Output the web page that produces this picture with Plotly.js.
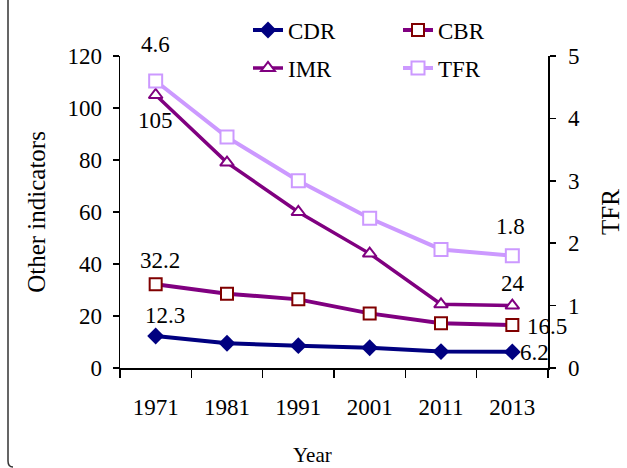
<!DOCTYPE html>
<html>
<head>
<meta charset="utf-8">
<script src="https://cdn.plot.ly/plotly-3.0.1.min.js"></script>
<style>
  html, body { margin: 0; padding: 0; background: #ffffff; }
  #chart { width: 627px; height: 468px; }
</style>
</head>
<body>
<div id="chart"></div>
<script>
// ---- data ----
var years = ["1971", "1981", "1991", "2001", "2011", "2013"];
var cdr = [12.3, 9.5, 8.6, 7.8, 6.3, 6.2];
var cbr = [32.2, 28.6, 26.4, 21.0, 17.2, 16.5];
var imr = [105, 79, 60, 44, 24.5, 24];
var tfr = [4.6, 3.7, 3.0, 2.4, 1.9, 1.8];
var leftTicks = [0, 20, 40, 60, 80, 100, 120];
var rightTicks = [0, 1, 2, 3, 4, 5];

var FONT = "Liberation Serif, Times New Roman, serif";

// evenly spaced category slots (the years are labels, not a time scale)
var pos = years.map(function (_, i) { return i; });
var bounds = [];
for (var b = 0; b <= years.length; b++) bounds.push(b - 0.5);

var traces = [
  { name: "CDR", x: pos, y: cdr, type: "scatter", mode: "lines+markers",
    line: { color: "#000080", width: 4 },
    marker: { symbol: "diamond", size: 13, color: "#000080" },
    legend: "legend" },
  { name: "CBR", x: pos, y: cbr, type: "scatter", mode: "lines+markers",
    line: { color: "#800080", width: 4 },
    marker: { symbol: "square", size: 12, color: "#ffffff", line: { color: "#800000", width: 2 } },
    legend: "legend" },
  { name: "IMR", x: pos, y: imr, type: "scatter", mode: "lines+markers",
    line: { color: "#800080", width: 3.5 },
    marker: { symbol: "triangle-up", size: 12, color: "#ffffff", line: { color: "#800080", width: 2 } },
    legend: "legend2" },
  { name: "TFR", x: pos, y: tfr, type: "scatter", mode: "lines+markers", yaxis: "y2",
    line: { color: "#CC99FF", width: 4 },
    marker: { symbol: "square", size: 13, color: "#ffffff", line: { color: "#CC99FF", width: 2 } },
    legend: "legend2" }
];

// data labels on first and last points (offsets are styling)
var n = years.length - 1;
function lab(series, i, yref, xs, ys, xanchor) {
  return { x: pos[i], y: series[i], xref: "x", yref: yref, text: String(series[i]),
           showarrow: false, xshift: xs, yshift: ys, xanchor: xanchor || "center", yanchor: "middle",
           font: { family: FONT, size: 23, color: "#000000" } };
}
var annotations = [
  lab(tfr, 0, "y2", 0, 36),
  lab(imr, 0, "y", 0, -25),
  lab(cbr, 0, "y", 4, 24),
  lab(cdr, 0, "y", 9, 21),
  lab(tfr, n, "y2", -2, 29),
  lab(imr, n, "y", 1, 22),
  lab(cbr, n, "y", 13, -1, "left"),
  lab(cdr, n, "y", 6, -1, "left"),
  { x: (312 - 120) / 428, y: (368 - 455) / 312, xref: "paper", yref: "paper", text: "Year",
    showarrow: false, xanchor: "center", yanchor: "middle",
    font: { family: FONT, size: 21, color: "#000000" } }
];

var layout = {
  width: 627, height: 468,
  margin: { l: 120, r: 79, t: 56, b: 100, autoexpand: false },
  paper_bgcolor: "#ffffff", plot_bgcolor: "#ffffff",
  font: { family: FONT, size: 23, color: "#000000" },
  showlegend: true,
  xaxis: {
    type: "linear", range: [-0.5, years.length - 0.5],
    tickmode: "array", tickvals: pos, ticktext: years,
    showline: true, linecolor: "#000000", linewidth: 1.5,
    ticks: "", ticklabelstandoff: 18,
    minor: { tickmode: "array", tickvals: bounds, ticks: "outside", ticklen: 8, tickwidth: 1.5, tickcolor: "#000000", showgrid: false },
    showgrid: false, zeroline: false,
    tickfont: { family: FONT, size: 23, color: "#000000" }
  },
  yaxis: {
    range: [0, 120], tickmode: "array", tickvals: leftTicks, ticktext: leftTicks.map(String),
    showline: true, linecolor: "#000000", linewidth: 1.5,
    ticks: "outside", ticklen: 6, tickwidth: 1.5, tickcolor: "#000000",
    ticklabelstandoff: 6,
    showgrid: false, zeroline: false,
    tickfont: { family: FONT, size: 23, color: "#000000" },
    title: { text: "Other indicators", font: { family: FONT, size: 25, color: "#000000" }, standoff: 14 }
  },
  yaxis2: {
    overlaying: "y", side: "right", range: [0, 5], tickmode: "array", tickvals: rightTicks, ticktext: rightTicks.map(String),
    showline: true, linecolor: "#000000", linewidth: 1.5,
    ticks: "outside", ticklen: 6, tickwidth: 1.5, tickcolor: "#000000",
    ticklabelstandoff: 8,
    showgrid: false, zeroline: false,
    tickfont: { family: FONT, size: 23, color: "#000000" },
    title: { text: "TFR", font: { family: FONT, size: 25, color: "#000000" }, standoff: 22 }
  },
  legend: {
    orientation: "h", x: (248 - 120) / 428, xanchor: "left", y: (368 - 30) / 312, yanchor: "middle",
    entrywidth: 105, bgcolor: "rgba(0,0,0,0)", borderwidth: 0,
    font: { family: FONT, size: 23, color: "#000000" }
  },
  legend2: {
    orientation: "h", x: (248 - 120) / 428, xanchor: "left", y: (368 - 68) / 312, yanchor: "middle",
    entrywidth: 105, bgcolor: "rgba(0,0,0,0)", borderwidth: 0,
    font: { family: FONT, size: 23, color: "#000000" }
  },
  annotations: annotations,
  shapes: [
    { type: "path", xref: "paper", yref: "paper",
      path: "M " + ((8 - 120) / 428) + "," + ((368 - 0) / 312) +
            " L " + ((8 - 120) / 428) + "," + ((368 - 461) / 312) +
            " Q " + ((8 - 120) / 428) + "," + ((368 - 467) / 312) + " " + ((13 - 120) / 428) + "," + ((368 - 467) / 312),
      line: { color: "#333333", width: 1.5 } }
  ]
};

Plotly.newPlot("chart", traces, layout, { staticPlot: true, displayModeBar: false });
</script>
</body>
</html>
